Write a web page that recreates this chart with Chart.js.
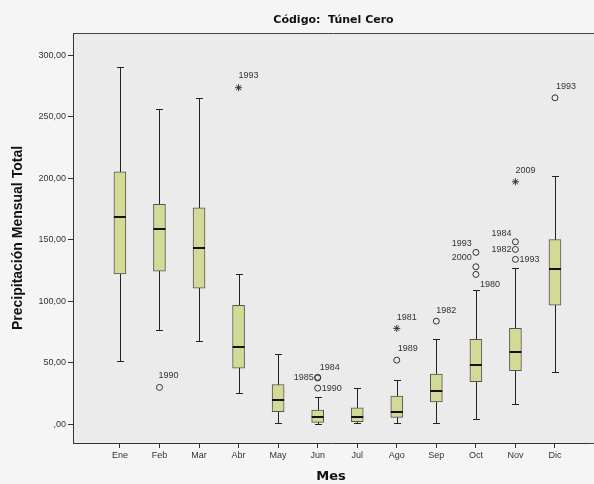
<!DOCTYPE html>
<html>
<head>
<meta charset="utf-8">
<script src="https://cdn.jsdelivr.net/npm/chart.js@4.4.0/dist/chart.umd.min.js"></script>
<style>
html, body { margin: 0; padding: 0; background: #f5f5f5; }
#wrap { width: 594px; height: 484px; }
</style>
</head>
<body>
<div id="wrap"><canvas id="boxChart" width="594" height="484"></canvas></div>
<script>
// Boxplot data
const months = ["Ene", "Feb", "Mar", "Abr", "May", "Jun", "Jul", "Ago", "Sep", "Oct", "Nov", "Dic"];
const whiskerLow  = [51.5, 76.4, 67.5, 24.9, 1.1, 0.3, 1.1, 1.0, 1.1, 4.1, 16.0, 42.5];
const q1          = [122.0, 124.4, 110.6, 45.5, 10.0, 1.4, 1.9, 5.4, 18.1, 34.4, 43.4, 96.7];
const median      = [168.0, 158.3, 143.4, 62.3, 19.5, 5.4, 5.4, 10.0, 26.8, 48.0, 58.3, 126.0];
const q3          = [205.1, 178.6, 175.9, 96.5, 32.2, 11.4, 13.3, 22.8, 40.7, 68.8, 77.8, 150.1];
const whiskerHigh = [290.5, 255.8, 265.3, 122.0, 56.6, 22.2, 29.0, 35.8, 69.1, 109.0, 126.6, 201.6];

// outliers (o) and extremes (*)
const circleX     = [1, 5, 5, 5, 7, 8, 9, 9, 9, 10, 10, 10, 11];
const circleY     = [29.8, 38.0, 37.5, 29.2, 52.0, 83.7, 139.6, 127.9, 121.7, 148.2, 142.0, 133.9, 265.3];
const circleYears = ["1990", "1984", "1985", "1990", "1989", "1982", "1993", "2000", "1980", "1984", "1982", "1993", "1993"];
const starX       = [3, 7, 10];
const starY       = [273.5, 77.8, 197.0];
const starYears   = ["1993", "1981", "2009"];

const yTicks      = [0, 50, 100, 150, 200, 250, 300];
const yTickLabels = [",00", "50,00", "100,00", "150,00", "200,00", "250,00", "300,00"];

// label placement next to each marker: [dx, dy, align]
const circleLabelPos = [
  [-1, -12, "left"], [2, -10, "left"], [-4, 0, "right"], [4, 0, "left"],
  [1, -12, "left"], [0, -11, "left"],
  [-4, -9, "right"], [-4, -9, "right"], [4, 10, "left"],
  [-4, -8, "right"], [-4, 0, "right"], [4, 0, "left"],
  [1, -11, "left"]
];
const starLabelPos = [[0, -12, "left"], [0, -11, "left"], [0, -11, "left"]];

const plotBg = {
  id: "plotBg",
  beforeDraw(chart) {
    const { ctx, chartArea: a } = chart;
    ctx.save();
    ctx.fillStyle = "#ebebeb";
    ctx.fillRect(a.left, a.top, chart.width - a.left, a.bottom - a.top);
    ctx.strokeStyle = "#444";
    ctx.lineWidth = 1;
    ctx.beginPath();
    ctx.moveTo(a.left, a.top + 0.5);
    ctx.lineTo(chart.width, a.top + 0.5);
    ctx.moveTo(a.right, a.bottom + 0.5);
    ctx.lineTo(chart.width, a.bottom + 0.5);
    ctx.stroke();
    // title
    ctx.fillStyle = "#111";
    ctx.font = "bold 11px 'DejaVu Sans'";
    ctx.textAlign = "center";
    ctx.textBaseline = "middle";
    ctx.fillText("Código:  Túnel Cero", (a.left + chart.width) / 2, 20);
    ctx.restore();
  }
};

const boxParts = {
  id: "boxParts",
  beforeDatasetsDraw(chart) {
    const { ctx, scales: { x, y } } = chart;
    ctx.save();
    ctx.strokeStyle = "#222";
    ctx.lineWidth = 1;
    months.forEach((m, i) => {
      const px = Math.round(x.getPixelForValue(i)) + 0.5;
      const top = Math.round(y.getPixelForValue(whiskerHigh[i])) + 0.5;
      const bot = Math.round(y.getPixelForValue(whiskerLow[i])) + 0.5;
      ctx.beginPath();
      ctx.moveTo(px, top);
      ctx.lineTo(px, bot);
      ctx.moveTo(px - 3.5, top);
      ctx.lineTo(px + 3.5, top);
      ctx.moveTo(px - 3.5, bot);
      ctx.lineTo(px + 3.5, bot);
      ctx.stroke();
    });
    ctx.restore();
  },
  afterDatasetsDraw(chart) {
    const { ctx, scales: { x, y } } = chart;
    ctx.save();
    ctx.strokeStyle = "#111";
    ctx.lineWidth = 2;
    months.forEach((m, i) => {
      const px = x.getPixelForValue(i);
      const py = Math.round(y.getPixelForValue(median[i]));
      ctx.beginPath();
      ctx.moveTo(px - 6, py);
      ctx.lineTo(px + 6, py);
      ctx.stroke();
    });
    // outlier year labels
    ctx.fillStyle = "#333";
    ctx.font = "9px 'Liberation Sans'";
    ctx.textBaseline = "middle";
    const put = (xs, ys, names, pos) => {
      names.forEach((t, i) => {
        const px = x.getPixelForValue(xs[i]);
        const py = y.getPixelForValue(ys[i]);
        const [dx, dy, al] = pos[i];
        ctx.textAlign = al;
        ctx.fillText(t, px + dx, py + dy);
      });
    };
    put(circleX, circleY, circleYears, circleLabelPos);
    put(starX, starY, starYears, starLabelPos);
    ctx.restore();
  }
};

new Chart(document.getElementById("boxChart"), {
  type: "bar",
  data: {
    datasets: [
      {
        label: "Caja",
        data: months.map((m, i) => ({ x: i, y: [q1[i], q3[i]] })),
        backgroundColor: "#d3da96",
        borderColor: "#555",
        borderWidth: 1,
        borderSkipped: false,
        barThickness: 12
      },
      {
        type: "scatter",
        label: "Atípicos",
        data: circleX.map((v, i) => ({ x: v, y: circleY[i] })),
        pointStyle: "circle",
        pointRadius: 3,
        backgroundColor: "rgba(0,0,0,0)",
        borderColor: "#333",
        borderWidth: 1
      },
      {
        type: "scatter",
        label: "Extremos",
        data: starX.map((v, i) => ({ x: v, y: starY[i] })),
        pointStyle: "star",
        pointRadius: 3.5,
        borderColor: "#333",
        borderWidth: 1
      }
    ]
  },
  options: {
    responsive: false,
    animation: false,
    layout: { padding: { top: 33, left: 0, right: 0, bottom: 0 } },
    plugins: {
      legend: { display: false },
      tooltip: { enabled: false }
    },
    scales: {
      x: {
        type: "linear",
        offset: false,
        min: -1.186,
        max: 11.86,
        afterBuildTicks: s => { s.ticks = months.map((m, i) => ({ value: i })); },
        afterFit: s => { s.height = 41; },
        ticks: {
          autoSkip: false,
          maxRotation: 0,
          padding: 2,
          color: "#333",
          font: { family: "Liberation Sans", size: 9 },
          callback: v => months[v]
        },
        grid: { offset: false, drawOnChartArea: false, drawTicks: true, tickLength: 5, color: "#333" },
        border: { display: true, color: "#333" },
        title: {
          display: true,
          text: "Mes",
          color: "#111",
          font: { family: "DejaVu Sans", size: 13, weight: "bold" },
          padding: { top: 0, bottom: 0 }
        }
      },
      y: {
        min: -15.4,
        max: 318,
        afterBuildTicks: s => { s.ticks = yTicks.map(v => ({ value: v })); },
        afterFit: s => { s.width = 73; },
        ticks: {
          padding: 2,
          color: "#333",
          font: { family: "Liberation Sans", size: 9 },
          callback: v => yTickLabels[yTicks.indexOf(v)]
        },
        grid: { drawOnChartArea: false, drawTicks: true, tickLength: 5, color: "#333" },
        border: { display: true, color: "#333" },
        title: {
          display: true,
          text: "Precipitación Mensual Total",
          color: "#111",
          font: { family: "Liberation Sans", size: 14, weight: "bold" },
          padding: { top: 10, bottom: 0 }
        }
      }
    }
  },
  plugins: [plotBg, boxParts]
});
</script>
</body>
</html>
